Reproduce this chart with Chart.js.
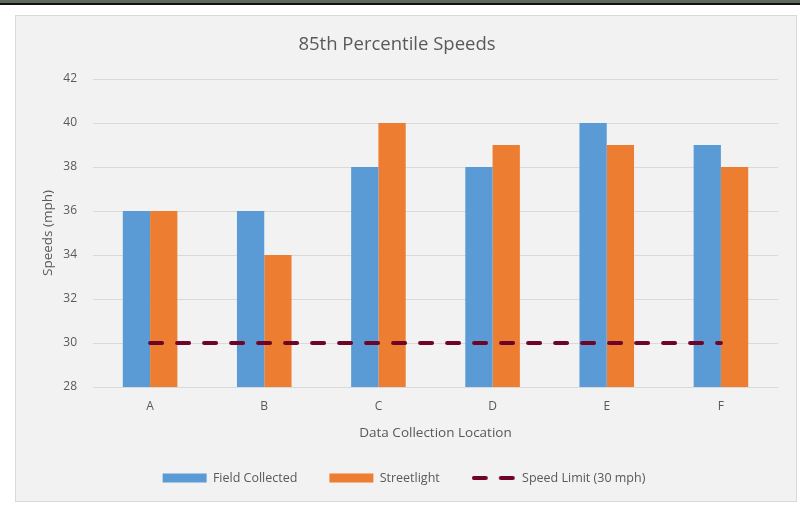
<!DOCTYPE html>
<html>
<head>
<meta charset="utf-8">
<script src="https://cdn.jsdelivr.net/npm/chart.js@4/dist/chart.umd.min.js"></script>
<style>
  html, body { margin: 0; padding: 0; background: #ffffff; }
  .strip { position: absolute; left: 0; top: 0; width: 800px; height: 3px; background: #5f6a5c; border-bottom: 2px solid #111111; }
  .box { position: absolute; left: 15px; top: 15px; width: 782px; height: 487px; box-sizing: border-box; border: 1px solid #d9d9d9; background: #f2f2f2; }
  canvas { display: block; }
</style>
</head>
<body>
<div class="strip"></div>
<div class="box"><canvas id="chart" width="780" height="485"></canvas></div>
<script>
const locations = ["A", "B", "C", "D", "E", "F"];
const fieldCollected = [36, 36, 38, 38, 40, 39];
const streetlight = [36, 34, 40, 39, 39, 38];
const speedLimit = [30, 30, 30, 30, 30, 30];
const yTicks = [28, 30, 32, 34, 36, 38, 40, 42];

const textColor = "#595959";
const limitColor = "#6e0428";
const fontFamily = "'Open Sans', sans-serif";

// legend sample for the dashed line (point styles ignore borderDash)
const dashSample = document.createElement("canvas");
dashSample.width = 44;
dashSample.height = 4;
(function () {
  const c = dashSample.getContext("2d");
  c.strokeStyle = limitColor;
  c.lineWidth = 4;
  c.lineCap = "round";
  c.beginPath();
  c.moveTo(2, 2); c.lineTo(14, 2);
  c.moveTo(29, 2); c.lineTo(41, 2);
  c.stroke();
})();

// nudge the legend a little to the right without moving the plot
const legendShift = {
  id: "legendShift",
  afterLayout(chart) {
    chart.legend.left += 7;
    chart.legend.right += 7;
  }
};

const ctx = document.getElementById("chart").getContext("2d");
new Chart(ctx, {
  data: {
    labels: locations,
    datasets: [
      {
        type: "bar",
        label: "Field Collected",
        data: fieldCollected,
        backgroundColor: "#5b9bd5",
        borderWidth: 0,
        categoryPercentage: 0.478,
        barPercentage: 1,
        order: 1
      },
      {
        type: "bar",
        label: "Streetlight",
        data: streetlight,
        backgroundColor: "#ed7d31",
        borderWidth: 0,
        categoryPercentage: 0.478,
        barPercentage: 1,
        order: 1
      },
      {
        type: "line",
        label: "Speed Limit (30 mph)",
        data: speedLimit,
        borderColor: limitColor,
        backgroundColor: limitColor,
        borderWidth: 4,
        borderDash: [12, 15],
        borderCapStyle: "round",
        pointRadius: 0,
        fill: false,
        order: 0
      }
    ]
  },
  options: {
    responsive: false,
    animation: false,
    layout: { padding: { left: 0, right: 18, top: 0, bottom: 6.75 } },
    plugins: {
      tooltip: { enabled: false },
      title: {
        display: true,
        text: "85th Percentile Speeds",
        color: textColor,
        font: { family: fontFamily, size: 18.5, weight: "normal" },
        padding: { top: 18, bottom: 22.8 }
      },
      legend: {
        position: "bottom",
        labels: {
          color: textColor,
          font: { family: fontFamily, size: 12.5 },
          usePointStyle: true,
          pointStyleWidth: 44,
          boxHeight: 9,
          padding: 32,
          generateLabels(chart) {
            const items = Chart.defaults.plugins.legend.labels.generateLabels(chart);
            items.sort((a, b) => a.datasetIndex - b.datasetIndex);
            items.forEach((item) => {
              item.pointStyle = item.datasetIndex === 2 ? dashSample : "rect";
            });
            return items;
          }
        }
      }
    },
    scales: {
      x: {
        grid: { display: false, drawTicks: false },
        border: { display: false },
        ticks: { color: textColor, font: { family: fontFamily, size: 12 }, padding: 12 },
        title: {
          display: true,
          text: "Data Collection Location",
          color: textColor,
          font: { family: fontFamily, size: 13.5 },
          padding: { top: 0, bottom: -1.35 }
        },
        afterFit(scale) { scale.height = 52.75; }
      },
      y: {
        min: 28,
        max: 42,
        afterBuildTicks(scale) { scale.ticks = yTicks.map((v) => ({ value: v })); },
        grid: { color: "#d9d9d9", lineWidth: 1, drawTicks: false },
        border: { display: false },
        ticks: { color: textColor, font: { family: fontFamily, size: 12 }, padding: 16 },
        title: {
          display: true,
          text: "Speeds (mph)",
          color: textColor,
          font: { family: fontFamily, size: 13.5 },
          padding: { top: 24, bottom: 0 }
        },
        afterFit(scale) { scale.width = 77; }
      }
    }
  },
  plugins: [legendShift]
});
</script>
</body>
</html>
